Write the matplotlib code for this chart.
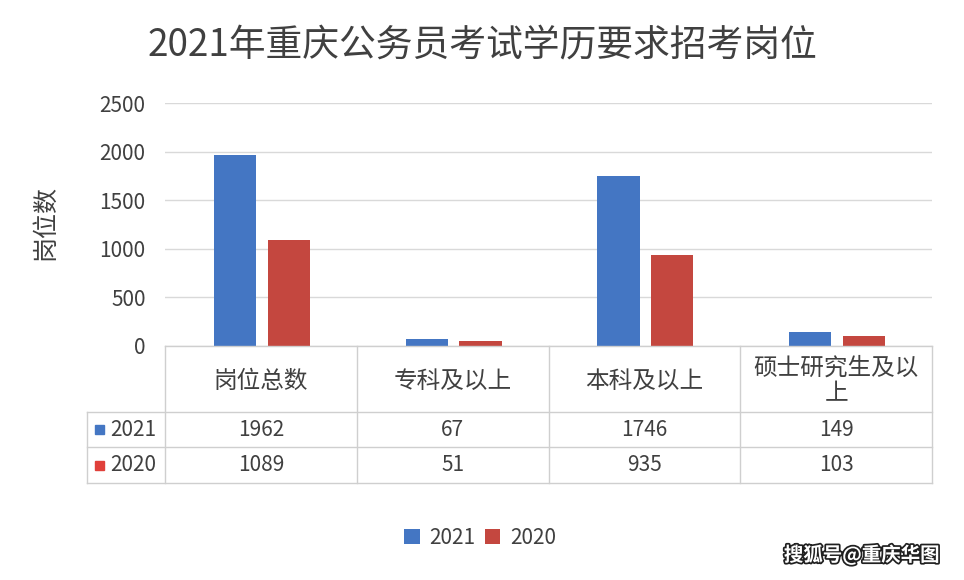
import matplotlib
matplotlib.use("Agg")
import matplotlib.pyplot as plt
import matplotlib.patheffects as pe
from matplotlib.patches import Rectangle
import numpy as np

plt.rcParams['font.family'] = ['Noto Sans CJK SC', 'DejaVu Sans']

title = "2021年重庆公务员考试学历要求招考岗位"
categories = ["岗位总数", "专科及以上", "本科及以上", "硕士研究生及以\n上"]
series_names = ["2021", "2020"]
values_2021 = [1962, 67, 1746, 149]
values_2020 = [1089, 51, 935, 103]
yticks = [0, 500, 1000, 1500, 2000, 2500]
ylabel = "岗位数"
watermark = "搜狐号@重庆华图"

c_blue = "#4476C3"
c_red = "#C4473F"
c_red_key = "#E0403A"
c_text = "#404040"
c_grid = "#D9D9D9"
c_table = "#CFCFCF"

W, H = 964, 580
fig = plt.figure(figsize=(W / 100, H / 100), dpi=100)
fig.patch.set_facecolor("white")

ax_l, ax_r, ax_top, ax_bot = 165, 932, 103, 346
ax = fig.add_axes([ax_l / W, 1 - ax_bot / H, (ax_r - ax_l) / W, (ax_bot - ax_top) / H])
x = np.arange(len(categories))
ax.bar(x - 0.135, values_2021, width=0.22, color=c_blue, label=series_names[0], zorder=3)
ax.bar(x + 0.145, values_2020, width=0.22, color=c_red, label=series_names[1], zorder=3)
ax.set_xlim(-0.5, len(categories) - 0.5)
ax.set_ylim(yticks[0], yticks[-1])
ax.set_yticks(yticks)
ax.set_yticklabels([str(t) for t in yticks], fontsize=15, color=c_text)
ax.tick_params(axis='y', length=0, pad=14)
ax.set_xticks([])
ax.yaxis.grid(True, color=c_grid, linewidth=1.0, zorder=0)
for s in ax.spines.values():
    s.set_visible(False)

fig.text(45 / W, 1 - 222 / H, ylabel, rotation=90, ha='center', va='center',
         fontsize=18, color=c_text)
fig.text(482 / W, 1 - 45 / H, title, ha='center', va='center', fontsize=26.5, color=c_text)

# Data table in pixel coordinates
ov = fig.add_axes([0, 0, 1, 1])
ov.set_xlim(0, W)
ov.set_ylim(H, 0)
ov.axis('off')
ov.patch.set_alpha(0)

col_w = (ax_r - ax_l) / len(categories)
cols = [ax_l + i * col_w for i in range(len(categories) + 1)]
left_x = 87
y_head_top, y_r1, y_r2, y_bot = 346, 412, 447, 483
lw = 1.0
ov.plot([ax_l, ax_r], [y_head_top, y_head_top], color=c_table, lw=lw)
ov.plot([left_x, ax_r], [y_r1, y_r1], color=c_table, lw=lw)
ov.plot([left_x, ax_r], [y_r2, y_r2], color=c_table, lw=lw)
ov.plot([left_x, ax_r], [y_bot, y_bot], color=c_table, lw=lw)
for cx in cols:
    ov.plot([cx, cx], [y_head_top, y_bot], color=c_table, lw=lw)
ov.plot([left_x, left_x], [y_r1, y_bot], color=c_table, lw=lw)

for i, cat in enumerate(categories):
    cx = (cols[i] + cols[i + 1]) / 2
    ov.text(cx, (y_head_top + y_r1) / 2 + 2, cat, ha='center', va='center',
            fontsize=17, color=c_text, linespacing=1.15)
    ov.text(cx, (y_r1 + y_r2) / 2, str(values_2021[i]), ha='center', va='center',
            fontsize=15, color=c_text)
    ov.text(cx, (y_r2 + y_bot) / 2, str(values_2020[i]), ha='center', va='center',
            fontsize=15, color=c_text)

for (ya, yb), name, col in [((y_r1, y_r2), series_names[0], c_blue),
                            ((y_r2, y_bot), series_names[1], c_red_key)]:
    yc = (ya + yb) / 2
    ov.add_patch(Rectangle((95, yc - 4.5), 9, 9, color=col))
    ov.text(110, yc, name, ha='left', va='center', fontsize=15, color=c_text)

# Legend
handles, labels = ax.get_legend_handles_labels()
leg = fig.legend(handles, labels, loc='center', bbox_to_anchor=(480 / W, 1 - 538 / H),
                 ncol=2, frameon=False, fontsize=15, handlelength=0.75, handleheight=0.75,
                 handletextpad=0.45, columnspacing=0.45)
for t in leg.get_texts():
    t.set_color(c_text)

# Watermark
wm = fig.text(940 / W, 1 - 555 / H, watermark, ha='right', va='center', fontsize=14,
              color='white', fontweight='bold')
wm.set_path_effects([pe.withStroke(linewidth=2.5, foreground='#202020')])

fig.savefig("out.png", dpi=100, facecolor="white")
